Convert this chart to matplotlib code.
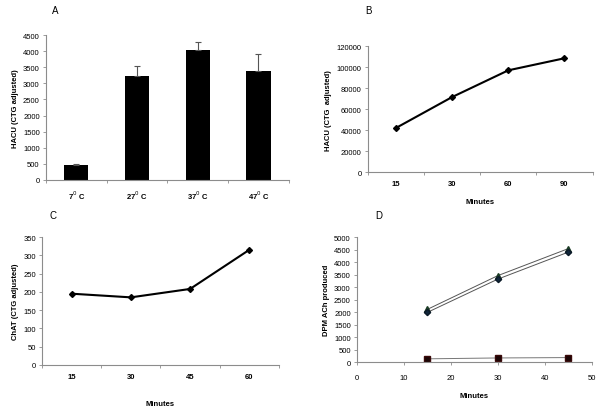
import matplotlib
matplotlib.use("Agg")
import matplotlib.pyplot as plt
import numpy as np

plt.rcParams['font.family'] = ['Liberation Sans', 'DejaVu Sans']

# Panel A
temps = ["7$^0$ C", "27$^0$ C", "37$^0$ C", "47$^0$ C"]
hacu_temp = [475, 3215, 4045, 3385]
hacu_err = [15, 320, 240, 525]

# Panel B
b_minutes = ["15", "30", "60", "90"]
hacu_time = [42000, 71500, 97000, 108500]

# Panel C
c_minutes = ["15", "30", "45", "60"]
chat_time = [195, 185, 208, 315]

# Panel D
d_minutes = [15, 30, 45]
dpm_tri = [2110, 3460, 4540]
dpm_dia = [1990, 3320, 4400]
dpm_sq = [130, 165, 180]

fig = plt.figure(figsize=(6.01, 4.14), dpi=100)
fs = 5.5
axcol = '#8c8c8c'

def style(ax):
    for s in ['top', 'right']:
        ax.spines[s].set_visible(False)
    for s in ['left', 'bottom']:
        ax.spines[s].set_color(axcol)
        ax.spines[s].set_linewidth(0.8)
    ax.tick_params(axis='both', which='both', direction='out', length=2.5,
                   width=0.6, color=axcol, labelsize=fs, pad=2)

def cat_axis(ax, labels):
    n = len(labels)
    ax.set_xlim(-0.5, n - 0.5)
    ax.set_xticks(range(n))
    ax.set_xticklabels(labels, fontsize=fs, fontweight='bold')
    ax.set_xticks(np.arange(-0.5, n, 1.0), minor=True)
    ax.tick_params(axis='x', which='major', length=0, pad=6)
    ax.tick_params(axis='x', which='minor', length=2.5)

# A
axA = fig.add_axes([0.0765, 0.563, 0.404, 0.350])
x = np.arange(len(temps))
axA.bar(x, hacu_temp, width=0.4, color='black')
axA.errorbar(x, hacu_temp, yerr=[np.zeros(len(hacu_err)), hacu_err], fmt='none',
             ecolor='#555555', elinewidth=0.8, capsize=2.5, capthick=0.8)
style(axA)
cat_axis(axA, temps)
axA.set_ylim(0, 4500)
axA.set_yticks(np.arange(0, 4501, 500))
axA.set_ylabel("HACU (CTG adjusted)", fontsize=fs, fontweight='bold', labelpad=3)
fig.text(0.087, 0.965, "A", fontsize=7)

# B
axB = fig.add_axes([0.612, 0.582, 0.374, 0.304])
axB.plot(range(len(b_minutes)), hacu_time, color='black', lw=1.5, marker='D', ms=3)
style(axB)
cat_axis(axB, b_minutes)
axB.set_ylim(0, 120000)
axB.set_yticks(np.arange(0, 120001, 20000))
axB.set_ylabel("HACU (CTG  adjusted)", fontsize=fs, fontweight='bold', labelpad=3)
axB.set_xlabel("Minutes", fontsize=fs, fontweight='bold', labelpad=8)
fig.text(0.607, 0.965, "B", fontsize=7)

# C
axC = fig.add_axes([0.070, 0.116, 0.394, 0.309])
axC.plot(range(len(c_minutes)), chat_time, color='black', lw=1.5, marker='D', ms=3)
style(axC)
cat_axis(axC, c_minutes)
axC.set_ylim(0, 350)
axC.set_yticks(np.arange(0, 351, 50))
axC.set_ylabel("ChAT (CTG adjusted)", fontsize=fs, fontweight='bold', labelpad=3)
axC.set_xlabel("Minutes", fontsize=fs, fontweight='bold', labelpad=14)
fig.text(0.083, 0.472, "C", fontsize=7)

# D
axD = fig.add_axes([0.594, 0.123, 0.391, 0.302])
axD.plot(d_minutes, dpm_tri, color='#555555', lw=0.7, marker='^', ms=4,
         mfc='#2e5e3a', mec='#1a3a22')
axD.plot(d_minutes, dpm_dia, color='#555555', lw=0.7, marker='D', ms=3.2,
         mfc='#10263a', mec='#0b1a28')
axD.plot(d_minutes, dpm_sq, color='#777777', lw=0.7, marker='s', ms=4.5,
         mfc='#1a0505', mec='#3a0a0a')
style(axD)
axD.set_xlim(0, 50)
axD.set_xticks(np.arange(0, 51, 10))
axD.set_ylim(0, 5000)
axD.set_yticks(np.arange(0, 5001, 500))
axD.tick_params(axis='x', pad=6)
axD.set_ylabel("DPM ACh produced", fontsize=fs, fontweight='bold', labelpad=3)
axD.set_xlabel("Minutes", fontsize=fs, fontweight='bold', labelpad=8)
fig.text(0.624, 0.472, "D", fontsize=7)

fig.savefig("out.png", dpi=100)
